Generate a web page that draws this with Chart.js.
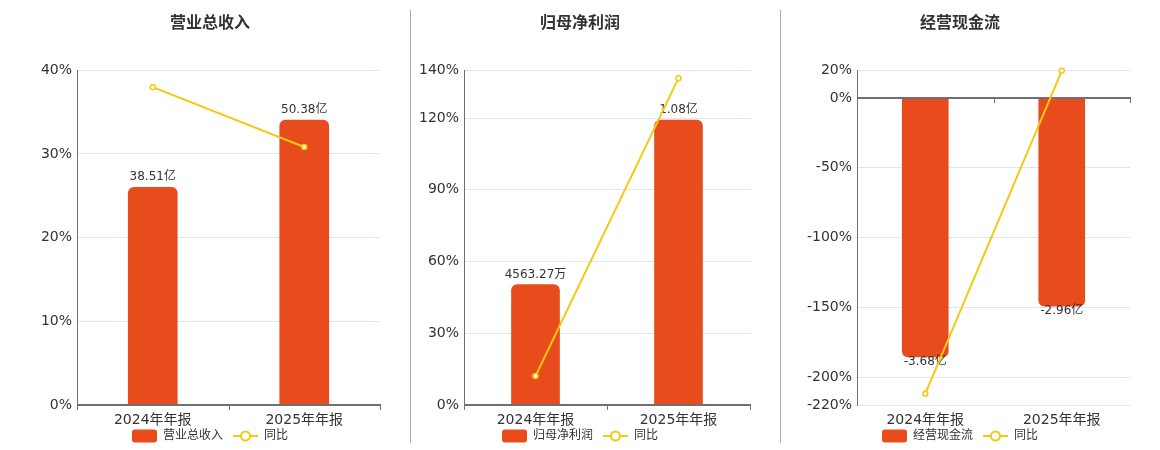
<!DOCTYPE html>
<html>
<head>
<meta charset="utf-8">
<script src="https://cdn.jsdelivr.net/npm/chart.js@4.4.1/dist/chart.umd.min.js"></script>
<style>
  html, body { margin: 0; padding: 0; background: #fff; width: 1160px; height: 450px; overflow: hidden; }
  .panel { position: absolute; top: 0; height: 452px; }
  .sep { position: absolute; top: 10px; height: 433px; width: 1px; background: #aaa; }
</style>
</head>
<body>
<div class="panel" style="left:0;width:410px"><canvas id="c1" width="410" height="452"></canvas></div>
<div class="sep" style="left:410px"></div>
<div class="panel" style="left:410px;width:370px"><canvas id="c2" width="370" height="452"></canvas></div>
<div class="sep" style="left:780px"></div>
<div class="panel" style="left:780px;width:380px"><canvas id="c3" width="380" height="452"></canvas></div>
<script>
// data
const categories = ['2024年年报', '2025年年报'];

const revenueBars = [38.51, 50.38];           // 亿
const revenueYoY = [37.97, 30.82];            // %
const revenueText = ['38.51亿', '50.38亿'];
const revenueTicks = [0, 10, 20, 30, 40];
const revenueBarRange = [0, 59.2];

const profitBars = [0.4563, 1.08];            // 亿
const profitYoY = [12.1, 136.68];
const profitText = ['4563.27万', '1.08亿'];
const profitTicks = [0, 30, 60, 90, 120, 140];
const profitBarRange = [0, 1.269];

const cashBars = [-3.68, -2.96];              // 亿
const cashYoY = [-212, 19.57];
const cashText = ['-3.68亿', '-2.96亿'];
const cashTicks = [-220, -200, -150, -100, -50, 0, 20];
const cashBarRange = [-4.365, 0.3968];

const FONT = "'DejaVu Sans', 'Noto Sans CJK SC', sans-serif";
const RED = '#E84B1C';
const YELLOW = '#F3C911';
Chart.defaults.font.family = FONT;

// legend icons
function makeIcon(draw) {
  const c = document.createElement('canvas');
  c.width = 25; c.height = 14;
  draw(c.getContext('2d'));
  return c;
}
const barIcon = makeIcon(ctx => {
  ctx.fillStyle = RED;
  ctx.beginPath();
  ctx.roundRect(0, 0.5, 25, 13, 3);
  ctx.fill();
});
const lineIcon = makeIcon(ctx => {
  ctx.strokeStyle = YELLOW;
  ctx.lineWidth = 2;
  ctx.beginPath(); ctx.moveTo(0, 7); ctx.lineTo(25, 7); ctx.stroke();
  ctx.fillStyle = '#fff';
  ctx.beginPath(); ctx.arc(12.5, 7, 4.5, 0, Math.PI * 2); ctx.fill(); ctx.stroke();
});

// zero axis line + value labels, drawn right after the bars (under the line)
const barDecor = {
  id: 'barDecor',
  afterDatasetDraw(chart, args, opts) {
    if (args.meta.type !== 'bar') return;
    const { ctx, chartArea: a } = chart;
    const zy = Math.round(chart.scales.y.getPixelForValue(0));
    ctx.save();
    ctx.strokeStyle = '#6E7079';
    ctx.lineWidth = 2;
    ctx.beginPath(); ctx.moveTo(a.left, zy); ctx.lineTo(a.right + 1, zy); ctx.stroke();
    ctx.lineWidth = 1;
    const n = chart.data.labels.length, step = (a.right - a.left) / n;
    ctx.beginPath();
    for (let i = 0; i <= n; i++) {
      const x = Math.round(a.left + i * step) + 0.5;
      ctx.moveTo(x, zy); ctx.lineTo(x, zy + 5);
    }
    ctx.stroke();

    ctx.font = '12px ' + FONT;
    ctx.fillStyle = '#333';
    ctx.textAlign = 'center';
    ctx.textBaseline = 'middle';
    const vals = chart.data.datasets[args.index].data;
    args.meta.data.forEach((el, i) => {
      if (vals[i] >= 0) ctx.fillText(opts.texts[i], el.x, el.y - 10);
      else ctx.fillText(opts.texts[i], el.x, el.y + 5);
    });
    ctx.restore();
  },
  // category labels under the plot (the x scale box is kept short so the legend sits close)
  afterDraw(chart) {
    const { ctx, chartArea: a, scales: { x } } = chart;
    ctx.save();
    ctx.font = '14px ' + FONT;
    ctx.fillStyle = '#333';
    ctx.textAlign = 'center';
    ctx.textBaseline = 'middle';
    chart.data.labels.forEach((lab, i) => ctx.fillText(lab, x.getPixelForValue(i), a.bottom + 15));
    ctx.restore();
  }
};

function buildChart(id, title, barName, bars, yoy, texts, ticks, barRange, lay) {
  new Chart(document.getElementById(id), {
    data: {
      labels: categories,
      datasets: [
        {
          type: 'bar', label: barName, data: bars, yAxisID: 'yBar', order: 1,
          backgroundColor: RED, barThickness: lay.barWidth,
          borderRadius: 6, borderSkipped: 'start'
        },
        {
          type: 'line', label: '同比', data: yoy, yAxisID: 'y', order: 0,
          borderColor: YELLOW, borderWidth: 2, tension: 0, clip: false,
          pointRadius: 2.5, pointBorderWidth: 1.5,
          pointBackgroundColor: '#fff', pointBorderColor: YELLOW
        }
      ]
    },
    options: {
      responsive: false,
      animation: false,
      layout: { padding: { left: lay.padLeft, right: lay.padRight, top: 0, bottom: 0 } },
      scales: {
        x: {
          offset: true,
          grid: { display: false, drawTicks: false },
          border: { display: false },
          ticks: { display: false },
          afterFit: s => { s.height = 15; }
        },
        y: {
          position: 'left',
          min: ticks[0], max: ticks[ticks.length - 1],
          afterBuildTicks: s => { s.ticks = ticks.map(v => ({ value: v })); },
          afterFit: s => { s.width = lay.axisWidth; },
          ticks: { callback: v => v + '%', font: { size: 14 }, color: '#333', padding: 5 },
          grid: { color: '#E0E6F1', drawTicks: false },
          border: { display: true, color: '#6E7079', width: 1 }
        },
        yBar: { display: false, min: barRange[0], max: barRange[1] }
      },
      plugins: {
        title: {
          display: true, text: title, color: '#333',
          font: { size: 16, weight: 'bold' },
          padding: { top: 14, bottom: 37 }
        },
        legend: {
          position: 'bottom',
          labels: {
            usePointStyle: true, pointStyleWidth: 25,
            font: { size: 12 }, color: '#333', padding: 10,
            generateLabels: c => Chart.defaults.plugins.legend.labels.generateLabels(c)
              .sort((a, b) => a.datasetIndex - b.datasetIndex)
              .map(l => ({ ...l, pointStyle: l.datasetIndex === 0 ? barIcon : lineIcon }))
          }
        },
        tooltip: { enabled: false },
        barDecor: { texts }
      }
    },
    plugins: [barDecor]
  });
}

buildChart('c1', '营业总收入', '营业总收入', revenueBars, revenueYoY, revenueText,
  revenueTicks, revenueBarRange, { padLeft: 40, padRight: 30, axisWidth: 37, barWidth: 49 });
buildChart('c2', '归母净利润', '归母净利润', profitBars, profitYoY, profitText,
  profitTicks, profitBarRange, { padLeft: 0, padRight: 30, axisWidth: 54, barWidth: 48 });
buildChart('c3', '经营现金流', '经营现金流', cashBars, cashYoY, cashText,
  cashTicks, cashBarRange, { padLeft: 10, padRight: 30, axisWidth: 67, barWidth: 46 });
</script>
</body>
</html>
